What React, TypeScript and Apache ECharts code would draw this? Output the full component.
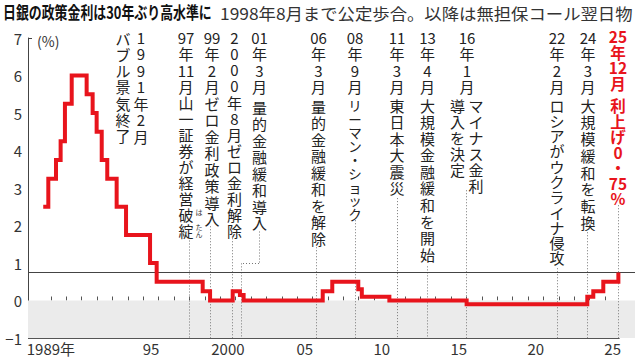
import React, { useEffect, useRef } from "react";
import * as echarts from "echarts";

const FONT = '"Noto Sans CJK JP", "Noto Sans", sans-serif';

// Policy rate (%): each level and the time (year fraction) it starts
const rateDates = [
  1988.5, 1988.83, 1989.33, 1989.63, 1989.91, 1990.35, 1991.32, 1991.71, 1991.97,
  1992.3, 1992.66, 1993.27, 1993.88, 1995.44, 1995.87, 1998.86, 1999.34, 2000.81,
  2001.28, 2001.52, 2006.66, 2007.28, 2008.97, 2009.2, 2010.99, 2016.01, 2023.85,
  2024.24, 2024.89, 2025.87,
];
const rateValues = [
  2.5, 3.25, 3.75, 4.25, 5.25, 6.0, 5.5, 5.0, 4.5,
  3.75, 3.25, 2.5, 1.75, 1.0, 0.5, 0.25, 0, 0.25,
  0.15, 0, 0.25, 0.5, 0.3, 0.1, 0, -0.1, 0.1,
  0.25, 0.5, 0.75,
];

// Events (year fraction as placed on the chart)
const eventDates = [
  1990.86, 1998.0, 1999.37, 2000.78, 2001.39, 2006.27, 2008.76, 2011.47, 2013.42,
  2016.01, 2021.9, 2023.85, 2025.87,
];
const eventHeaders = [
  ["1", "9", "9", "1", "年", "2", "月"],
  ["97", "年", "11", "月"],
  ["99", "年", "2", "月"],
  ["2", "0", "0", "0", "年", "8", "月"],
  ["01", "年", "3", "月"],
  ["06", "年", "3", "月"],
  ["08", "年", "9", "月"],
  ["11", "年", "3", "月"],
  ["13", "年", "4", "月"],
  ["16", "年", "1", "月"],
  ["22", "年", "2", "月"],
  ["24", "年", "3", "月"],
  ["25", "年", "12", "月"],
];
const eventBodies = [
  ["バブル景気終了"],
  ["山一証券が経営破綻"],
  ["ゼロ金利政策導入"],
  ["ゼロ金利解除"],
  ["量的金融緩和導入"],
  ["量的金融緩和を解除"],
  ["リーマン・ショック"],
  ["東日本大震災"],
  ["大規模金融緩和を開始"],
  ["マイナス金利", "導入を決定"],
  ["ロシアがウクライナ侵攻"],
  ["大規模緩和を転換"],
  ["利上げ0・75%"],
];

const xLabelValues = [1989, 1995.5, 2000.5, 2005.5, 2010.5, 2015.5, 2020.5, 2025.5];
const xLabelTexts = ["1989年", "95", "2000", "05", "10", "15", "20", "25"];
const xTickYears: number[] = [];
for (let y = 1989; y <= 2025; y++) xTickYears.push(y);

const titleText = "日銀の政策金利は30年ぶり高水準に";
const subtitleText = "1998年8月まで公定歩合。以降は無担保コール翌日物";

// ---- layout (positions / styles) ----
const X_MIN = 1987.51;
const X_MAX = 2026.95;
const lineTops = [7.19, 1.6, 1.98, 1.66, 0.99, 1.42, 2.14, 2.73, 0.91, 2.94, 0.86, 1.82, 2.54];
const colLayout = [
  { hx: 141, hy: 37, hlh: 16.5, bx: [123], by: 38, blh: 16.3, fs: 15 },
  { hx: 186, hy: 37, hlh: 16.5, bx: [186], by: 102, blh: 16, fs: 15 },
  { hx: 212, hy: 37, hlh: 16.5, bx: [212], by: 103, blh: 16.5, fs: 15 },
  { hx: 234.5, hy: 37, hlh: 16.3, bx: [234.5], by: 150, blh: 16, fs: 15 },
  { hx: 259.5, hy: 37, hlh: 16.5, bx: [259.5], by: 107, blh: 16.5, fs: 15 },
  { hx: 318.5, hy: 37, hlh: 16.5, bx: [318.5], by: 106, blh: 16.5, fs: 15 },
  { hx: 355, hy: 37, hlh: 16.5, bx: [355], by: 105, blh: 13.6, fs: 13.5 },
  { hx: 397, hy: 37, hlh: 16.5, bx: [397], by: 105, blh: 16.6, fs: 15 },
  { hx: 427.5, hy: 37, hlh: 16.5, bx: [427.5], by: 105, blh: 16.6, fs: 15 },
  { hx: 467, hy: 37, hlh: 16.5, bx: [476, 457.5], by: 105, blh: 16.2, fs: 15 },
  { hx: 557, hy: 37, hlh: 16.5, bx: [557], by: 105, blh: 15.3, fs: 15 },
  { hx: 588, hy: 37, hlh: 16.5, bx: [588], by: 105, blh: 16.8, fs: 15 },
  { hx: 618, hy: 36, hlh: 15.5, bx: [618], by: 105, blh: 15.5, fs: 15.5 },
];

const tokenize = (s: string) => s.match(/[0-9]+|./gu) || [];

function vText(x: number, yFirst: number, lh: number, tokens: string[], opts: any = {}) {
  return {
    type: "text",
    x,
    y: yFirst - lh / 2,
    silent: true,
    z: 20,
    style: {
      text: tokens.join("\n"),
      fontSize: opts.fontSize || 15,
      fontFamily: FONT,
      fontWeight: opts.fontWeight || "normal",
      fill: opts.fill || "#222",
      align: "center",
      verticalAlign: "top",
      lineHeight: lh,
    },
  };
}

export default function App() {
  const ref = useRef<HTMLDivElement>(null);
  useEffect(() => {
    document.body.style.margin = "0";
    if (!ref.current) return;
    const chart = echarts.init(ref.current, undefined, { renderer: "svg" });

    const dotted = { type: [1, 2], color: "#777", width: 1 };
    const mlData: any[] = [];
    eventDates.forEach((d, i) => {
      mlData.push([{ coord: [d, lineTops[i]], lineStyle: dotted }, { coord: [d, -1] }]);
    });
    // leader connectors
    mlData.push([{ coord: [eventDates[0], lineTops[0]], lineStyle: dotted }, { coord: [1992.97, lineTops[0]] }]);
    mlData.push([{ coord: [2002.52, 1.84], lineStyle: dotted }, { coord: [2002.52, lineTops[4]] }]);
    mlData.push([{ coord: [2002.52, lineTops[4]], lineStyle: dotted }, { coord: [eventDates[4], lineTops[4]] }]);
    // 0.75% reference line
    mlData.push([
      { coord: [X_MIN, 0.75], lineStyle: { type: "solid", color: "#444", width: 1 } },
      { coord: [X_MAX, 0.75] },
    ]);
    // x baseline
    mlData.push([
      { coord: [X_MIN, -1], lineStyle: { type: "solid", color: "#555", width: 1 } },
      { coord: [2025.95, -1] },
    ]);

    const graphics: any[] = [];
    graphics.push({
      type: "text",
      x: 3,
      y: 3,
      scaleX: 0.76,
      silent: true,
      style: {
        text: titleText,
        fontSize: 17,
        fontWeight: "bold",
        fontFamily: FONT,
        fill: "#111",
        align: "left",
        verticalAlign: "top",
      },
    });
    graphics.push({
      type: "text",
      x: 220,
      y: 5,
      scaleX: 1.085,
      silent: true,
      style: {
        text: subtitleText,
        fontSize: 16,
        fontFamily: FONT,
        fill: "#333",
        align: "left",
        verticalAlign: "top",
      },
    });
    graphics.push({
      type: "text",
      x: 37,
      y: 41,
      silent: true,
      style: { text: "(%)", fontSize: 14, fontFamily: FONT, fill: "#333", align: "left", verticalAlign: "middle" },
    });
    eventHeaders.forEach((h, i) => {
      const L = colLayout[i];
      const red = i === eventHeaders.length - 1;
      const o = red
        ? { fill: "#e8141c", fontWeight: "bold", fontSize: L.fs }
        : { fontSize: 15 };
      graphics.push(vText(L.hx, L.hy, L.hlh, h, o));
      eventBodies[i].forEach((b, j) => {
        graphics.push(vText(L.bx[j], L.by, L.blh, tokenize(b), { ...o, fontSize: L.fs }));
      });
    });
    // ruby for 破綻
    graphics.push({
      type: "text",
      x: 199,
      y: 208,
      silent: true,
      style: {
        text: "は\n\nた\nん",
        fontSize: 7,
        fontFamily: FONT,
        fill: "#333",
        align: "center",
        verticalAlign: "top",
        lineHeight: 7.5,
      },
    });

    const option: any = {
      animation: false,
      grid: { left: 28, right: 5, top: 38, bottom: 20 },
      xAxis: {
        type: "value",
        min: X_MIN,
        max: X_MAX,
        axisLine: { show: false },
        axisTick: {
          show: true,
          inside: true,
          length: 4,
          customValues: xTickYears,
          lineStyle: { color: "#555", width: 1 },
        },
        axisLabel: {
          customValues: xLabelValues,
          formatter: (v: number) => {
            const i = xLabelValues.findIndex((x) => Math.abs(x - v) < 1e-6);
            return i >= 0 ? xLabelTexts[i] : "";
          },
          fontSize: 15,
          lineHeight: 15,
          color: "#333",
          fontFamily: FONT,
          margin: 3,
        },
        splitLine: { show: false },
      },
      yAxis: {
        type: "value",
        min: -1,
        max: 7,
        interval: 1,
        axisLine: { show: true, lineStyle: { color: "#444", width: 1 } },
        axisTick: { show: true, inside: true, length: 4, customValues: [7], lineStyle: { color: "#444" } },
        axisLabel: {
          fontSize: 15,
          lineHeight: 15,
          color: "#333",
          fontFamily: FONT,
          margin: 6,
          formatter: (v: number) => (v < 0 ? "−" + -v : String(v)),
        },
        splitLine: { show: false },
      },
      series: [
        {
          type: "line",
          data: [],
          z: 1,
          silent: true,
          clip: false,
          markArea: {
            silent: true,
            z: 1,
            label: { show: false },
            itemStyle: { color: "#ebebeb" },
            data: [[{ coord: [X_MIN, -1] }, { coord: [X_MAX, 0] }]],
          },
          markLine: {
            silent: true,
            z: 2,
            symbol: ["none", "none"],
            label: { show: false },
            data: mlData,
          },
        },
        {
          type: "line",
          step: "end",
          data: rateDates.map((d, i) => [d, rateValues[i]]),
          symbol: "none",
          showSymbol: false,
          silent: true,
          clip: false,
          z: 10,
          lineStyle: { color: "#e8141c", width: 4, join: "miter" },
        },
      ],
      graphic: { elements: graphics },
    };
    chart.setOption(option);
    return () => chart.dispose();
  }, []);
  return <div ref={ref} style={{ width: 640, height: 358 }} />;
}
